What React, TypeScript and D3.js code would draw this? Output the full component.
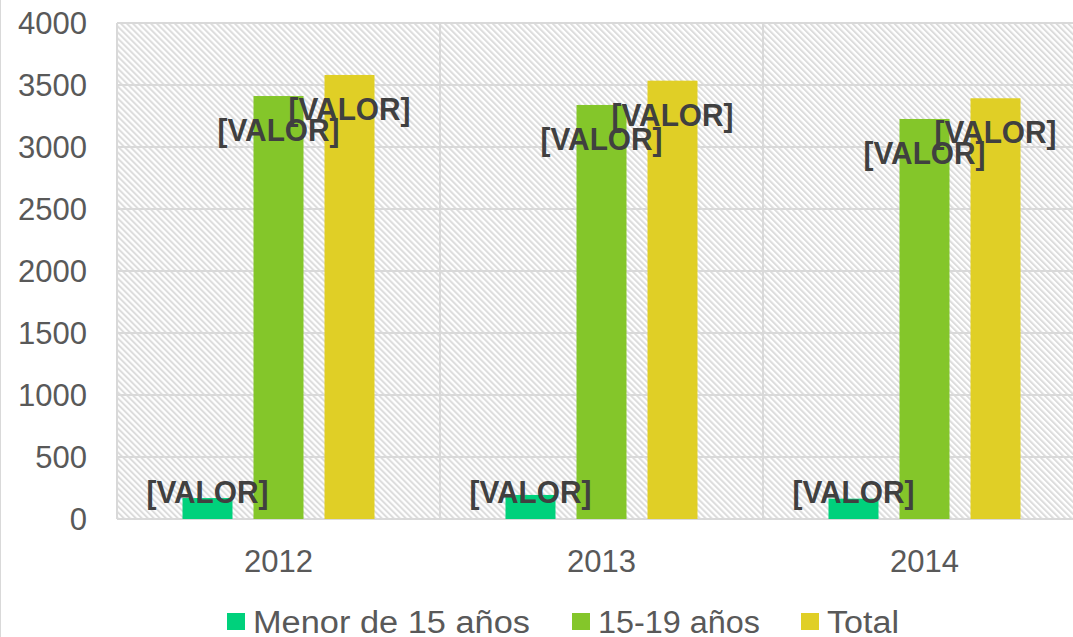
import React from "react";
import { scaleBand, scaleLinear } from "d3";

// data
const years = ["2012", "2013", "2014"];
const seriesNames = ["Menor de 15 años", "15-19 años", "Total"];
const menor15 = [169, 194, 164];
const de15a19 = [3411, 3339, 3226];
const total = [3581, 3535, 3393];
const yTicks = [0, 500, 1000, 1500, 2000, 2500, 3000, 3500, 4000];
const colors = ["#00D17C", "#84C62A", "#E0CF26"];

const W = 1073;
const H = 637;
const plot = { left: 117, top: 23, right: 1086, bottom: 519 };

export default function App() {
  const values = [menor15, de15a19, total];

  const x = scaleBand().domain(years).range([plot.left, plot.right]).padding(0);
  const groupW = 192;
  const inner = scaleBand().domain(seriesNames).range([0, groupW]).paddingInner(0.296).paddingOuter(0);
  const groupOff = (x.bandwidth() - groupW) / 2;

  const y = scaleLinear().domain([0, 4000]).range([plot.bottom, plot.top]);

  const axisFont = "'Liberation Sans', Arial, sans-serif";

  // legend spots + text widths
  const legendX = [227, 572, 801];
  const legendW = [277, 162, 72];

  return (
    <svg width={W} height={H} style={{ position: "absolute", left: 0, top: 0, background: "#fff" }}>
      <defs>
        <pattern id="hatch" patternUnits="userSpaceOnUse" width="4.24" height="4.24" patternTransform="rotate(-45)">
          <rect width="4.24" height="4.24" fill="#ffffff" />
          <line x1="1" y1="0" x2="1" y2="4.24" stroke="#dcdcdc" strokeWidth="2" />
        </pattern>
      </defs>

      {/* chart border left */}
      <line x1={0.5} x2={0.5} y1={0} y2={H} stroke="#d9d9d9" />

      {/* plot background */}
      <rect x={plot.left} y={plot.top} width={plot.right - plot.left} height={plot.bottom - plot.top} fill="url(#hatch)" />

      {/* gridlines */}
      {yTicks.map(t => (
        <line key={"g" + t} x1={plot.left} x2={plot.right} y1={y(t)} y2={y(t)} stroke="#d9d9d9" strokeWidth={2} />
      ))}
      {years.map(yr => (
        <line key={"v" + yr} x1={x(yr)} x2={x(yr)} y1={plot.top} y2={plot.bottom} stroke="#d9d9d9" strokeWidth={2} />
      ))}
      <line x1={plot.right} x2={plot.right} y1={plot.top} y2={plot.bottom} stroke="#d9d9d9" strokeWidth={2} />

      {/* y axis labels */}
      {yTicks.map(t => (
        <text key={"yt" + t} x={plot.left - 30} y={y(t) + 11} textAnchor="end" fontFamily={axisFont} fontSize={31} fill="#595959">
          {t}
        </text>
      ))}

      {/* x axis labels */}
      {years.map(yr => (
        <text key={"xt" + yr} x={(x(yr) || 0) + x.bandwidth() / 2} y={572} textAnchor="middle" fontFamily={axisFont} fontSize={31} fill="#595959">
          {yr}
        </text>
      ))}

      {/* bars */}
      {seriesNames.map((s, si) =>
        years.map((yr, i) => {
          const bx = (x(yr) || 0) + groupOff + (inner(s) || 0);
          const v = values[si][i];
          return (
            <rect key={s + yr} x={bx} y={y(v)} width={inner.bandwidth()} height={y(0) - y(v)} fill={colors[si]} />
          );
        })
      )}

      {/* data labels */}
      {seriesNames.map((s, si) =>
        years.map((yr, i) => {
          const cx = (x(yr) || 0) + groupOff + (inner(s) || 0) + inner.bandwidth() / 2;
          const v = values[si][i];
          const by = Math.min(y(v) + 45, y(0) - 16);
          return (
            <text key={"l" + s + yr} x={cx} y={by} textAnchor="middle" fontFamily={axisFont} fontWeight="bold" fontSize={32} fill="#404040" textLength={122} lengthAdjust="spacingAndGlyphs">
              [VALOR]
            </text>
          );
        })
      )}

      {/* legend */}
      {seriesNames.map((s, si) => (
        <g key={"lg" + s}>
          <rect x={legendX[si]} y={613} width={18} height={17} fill={colors[si]} />
          <text x={legendX[si] + 26} y={633} fontFamily={axisFont} fontSize={31} fill="#595959" textLength={legendW[si]} lengthAdjust="spacingAndGlyphs">
            {s}
          </text>
        </g>
      ))}
    </svg>
  );
}
